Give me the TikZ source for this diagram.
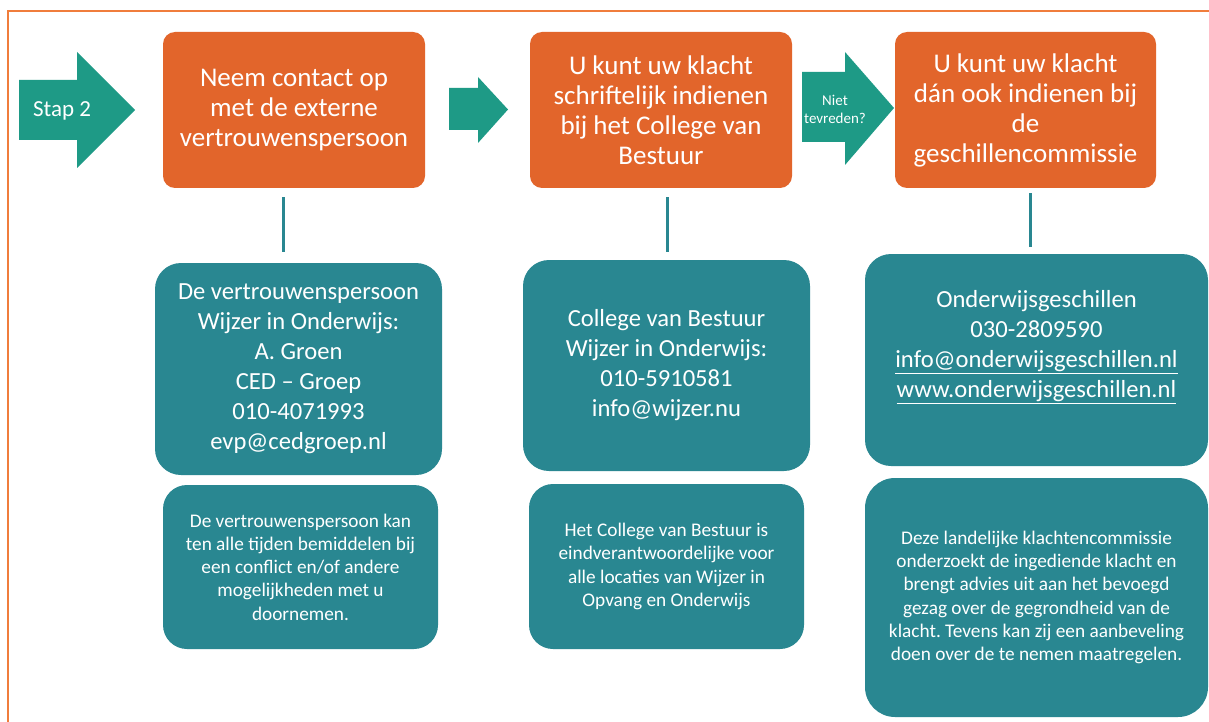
\documentclass[tikz,border=0pt]{standalone}
\usepackage{fontspec}
\setmainfont{Carlito}
\frenchspacing
\definecolor{oranje}{RGB}{226,101,43}
\definecolor{blauwgroen}{RGB}{41,135,145}
\definecolor{pijlgroen}{RGB}{30,154,134}
\definecolor{kader}{RGB}{240,125,60}
\begin{document}
\begin{tikzpicture}[x=1pt,y=-1pt,
  stepbox/.style={fill=oranje, rounded corners=12pt, text=white, align=center,
    font=\fontsize{27}{30}\selectfont, inner sep=0pt, minimum width=262pt, minimum height=156pt},
  infobox/.style={fill=blauwgroen, rounded corners=26pt, text=white, align=center,
    font=\fontsize{24.6}{30}\selectfont, inner sep=0pt, minimum height=211pt},
  notebox/.style={fill=blauwgroen, rounded corners=24pt, text=white, align=center,
    font=\fontsize{19.3}{23.3}\selectfont, inner sep=0pt},
  pijl/.style={fill=pijlgroen},
  pijltekst/.style={text=white, align=center, inner sep=0pt},
  lijn/.style={draw=blauwgroen, line width=3pt},
]
\useasboundingbox (0,0) rectangle (1209,722);
\fill[white] (0,0) rectangle (1209,722);
\draw[kader, line width=2pt] (8,730) -- (8,11) -- (1215,11);

% block arrows
\fill[pijl] (19,80) -- (77,80) -- (77,52) -- (135,110) -- (77,168) -- (77,140) -- (19,140) -- cycle;
\node[pijltekst, font=\fontsize{23}{27}\selectfont] (stap) at (62,111) {Stap 2};
\fill[pijl] (449,88) -- (478,88) -- (478,77) -- (508,109.5) -- (478,143) -- (478,130) -- (449,130) -- cycle;
\fill[pijl] (802,72) -- (845,72) -- (845,52) -- (894,108) -- (845,165) -- (845,142) -- (802,142) -- cycle;
\node[pijltekst, font=\fontsize{15}{18}\selectfont] (niet) at (835,109) {Niet\\tevreden?};

% orange step boxes
\node[stepbox] (o1) at (294,110) {Neem contact op\\met de externe\\vertrouwenspersoon};
\node[stepbox] (o2) at (661,110) {U kunt uw klacht\\schriftelijk indienen\\bij het College van\\Bestuur};
\node[stepbox, minimum width=261pt] (o3) at (1025.5,110) {U kunt uw klacht\\dán ook indienen bij\\de\\geschillencommissie};

% teal info boxes
\node[infobox, minimum width=287pt, minimum height=212pt] (t1) at (298.5,369)
  {De vertrouwenspersoon\\Wijzer in Onderwijs:\\A. Groen\\CED -- Groep\\010-4071993\\evp@cedgroep.nl};
\node[infobox, minimum width=287pt] (t2) at (666.5,365.5)
  {College van Bestuur\\Wijzer in Onderwijs:\\010-5910581\\info@wijzer.nu};
\node[infobox, minimum width=343pt, minimum height=212pt] (t3) at (1036.5,360) {};
\node[text=white, align=center, font=\fontsize{24.6}{30}\selectfont, inner sep=0pt] (t3tekst) at (1036.5,347)
  {Onderwijsgeschillen\\030-2809590\\\underline{info@onderwijsgeschillen.nl}\\\underline{www.onderwijsgeschillen.nl}};

% teal note boxes
\node[notebox, minimum width=275pt, minimum height=164pt] (n1) at (300.5,567)
  {De vertrouwenspersoon kan\\ten alle tijden bemiddelen bij\\een conflict en/of andere\\mogelijkheden met u\\doornemen.};
\node[notebox, minimum width=275pt, minimum height=165pt] (n2) at (666.5,566.5)
  {Het College van Bestuur is\\eindverantwoordelijke voor\\alle locaties van Wijzer in\\Opvang en Onderwijs};
\node[notebox, rounded corners=30pt, minimum width=343pt, minimum height=239pt] (n3) at (1036.5,597.5)
  {Deze landelijke klachtencommissie\\onderzoekt de ingediende klacht en\\brengt advies uit aan het bevoegd\\gezag over de gegrondheid van de\\klacht. Tevens kan zij een aanbeveling\\doen over de te nemen maatregelen.};

% connectors
\draw[lijn] ([xshift=-11pt,yshift=-9pt]o1.south) -- ([xshift=-15.5pt,yshift=11pt]t1.north);
\draw[lijn] ([xshift=6pt,yshift=-9pt]o2.south) -- ([xshift=0.5pt,yshift=8pt]t2.north);
\draw[lijn] ([xshift=4.5pt,yshift=-5pt]o3.south) -- ([xshift=-6.5pt,yshift=7pt]t3.north);
\end{tikzpicture}
\end{document}
